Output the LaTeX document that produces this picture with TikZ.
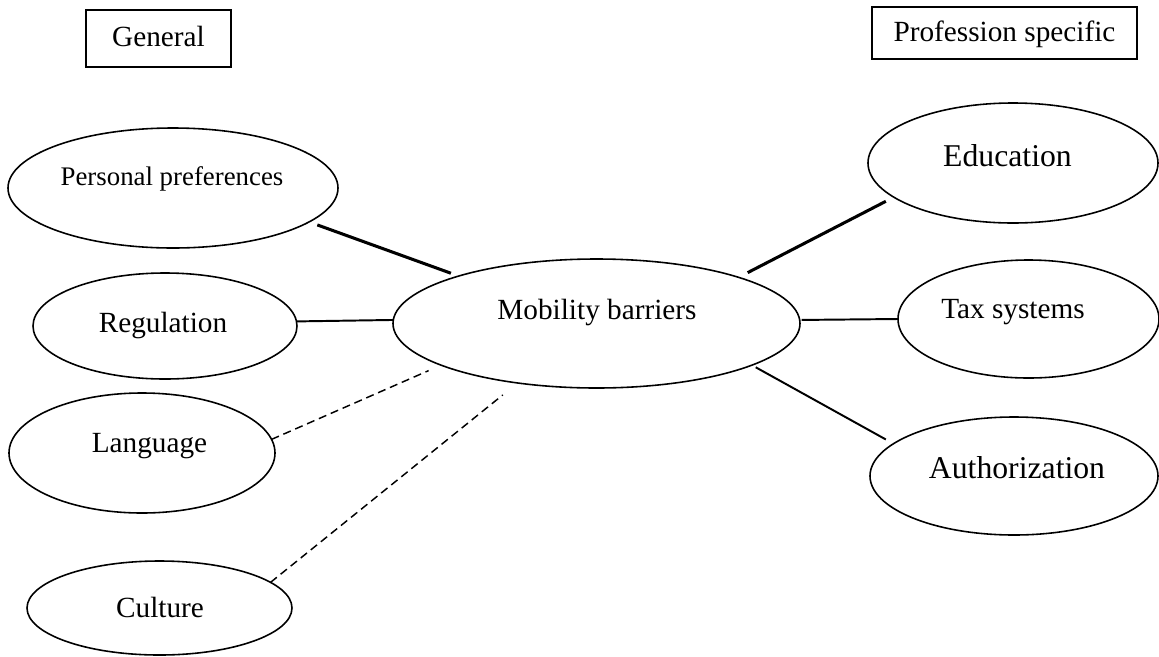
\documentclass[tikz,border=0pt]{standalone}
\usepackage{fontspec}
\setmainfont{Liberation Serif}
\usetikzlibrary{shapes.geometric}

\begin{document}
\begin{tikzpicture}[x=0.41pt, y=-0.41pt,
    bubble/.style = {ellipse, draw, line width=0.65pt,
                inner sep=0pt, outer sep=0pt},
    dims/.style 2 args = {minimum width=#1*0.41pt, minimum height=#2*0.41pt},
    txt/.style = {inner sep=0pt, text height=0.66em, text depth=0pt,
                font=\fontsize{#1}{#1}\selectfont},
    txt/.default = 12,  % font size in pt
    tag/.style = {draw, line width=0.8pt, inner sep=0pt, outer sep=0pt,
                text height=0.66em, text depth=0pt,
                font=\fontsize{12}{12}\selectfont},
    link/.style = {line width=0.8pt},
    heavy/.style = {line width=1.25pt},
    faint/.style = {line width=0.6pt, dash pattern=on 3.3pt off 2pt}
                    ]
        \useasboundingbox (0,0) rectangle (1159,656);
        % the two headings
        \node[tag, dims={145}{57}] (general) at (158.5,38.5) {General};
        \node[tag, dims={265}{52}] (specific) at (1004.5,33) {Profession specific};
        % ellipses
        \foreach \x/\y/\w/\h/\n in {173/188/330/120/pp, 165/326/264/106/reg, 142/453/266/120/lang, 159.5/608/265/94/cult, 596.5/323.5/407/129/mb, 1013/163/290/120/edu, 1028.5/319/261/118/tax, 1014/476/288/118/auth}
            \node[bubble, dims={\w}{\h}] at (\x,\y) (\n) {};
        % texts in the ellipses
        \node[txt=11] (pp-t) at (172,177.8) {Personal preferences};
        \node[txt] (reg-t) at (163,324.7) {Regulation};
        \node[txt] (lang-t) at (149.5,444.5) {Language};
        \node[txt] (cult-t) at (160,609.7) {Culture};
        \node[txt] (mb-t) at (597,311) {Mobility barriers};
        \node[txt=13] (edu-t) at (1007.5,158.7) {Education};
        \node[txt] (tax-t) at (1013,310) {Tax systems};
        \node[txt=13] (auth-t) at (1017,470) {Authorization};
        % general barriers
        \draw[heavy, shorten <=3.6pt, shorten >=3.4pt] (pp.-14) -- (mb.161);
        \draw[link] (reg.2) -- (mb.179);
        \draw[faint, shorten >=5.6pt] (lang.6) -- (mb.195);
        \draw[faint, shorten >=7.8pt] (cult.13) -- (mb.217);
        % profession specific barriers
        \draw[heavy, shorten <=4.2pt, shorten >=3.7pt] (mb.18) -- (edu.196);
        \draw[link, shorten <=0.8pt] (mb.1) -- (tax.180);
        \draw[link, shorten <=1.8pt, shorten >=3.6pt] (mb.-15) -- (auth.165);
    \end{tikzpicture}
\end{document}
